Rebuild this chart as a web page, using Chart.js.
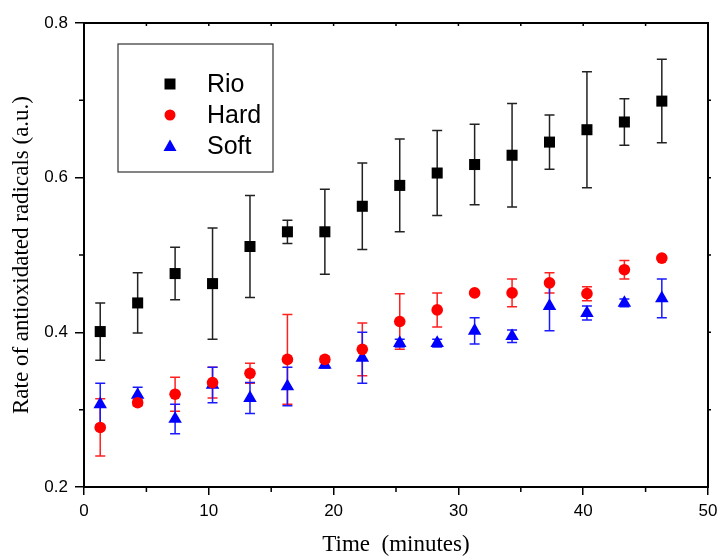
<!DOCTYPE html>
<html>
<head>
<meta charset="utf-8">
<script src="https://cdn.jsdelivr.net/npm/chart.js@4/dist/chart.umd.min.js"></script>
<style>
  html, body { margin: 0; padding: 0; background: #fff; }
  #wrap { width: 719px; height: 556px; position: relative; }
</style>
</head>
<body>
<div id="wrap"><canvas id="chart" width="719" height="556"></canvas></div>
<script>
// time points (minutes)
const time = [1.3, 4.3, 7.3, 10.3, 13.3, 16.3, 19.3, 22.3, 25.3, 28.3, 31.3, 34.3, 37.3, 40.3, 43.3, 46.3];

// Rio
const rio = [0.401, 0.438, 0.476, 0.463, 0.511, 0.530, 0.530, 0.563, 0.590, 0.606, 0.617, 0.629, 0.646, 0.662, 0.672, 0.699];
const rioErr = [0.037, 0.039, 0.034, 0.072, 0.066, 0.015, 0.055, 0.056, 0.060, 0.055, 0.052, 0.067, 0.035, 0.075, 0.030, 0.054];

// Hard
const hard = [0.277, 0.309, 0.320, 0.335, 0.347, 0.365, 0.365, 0.378, 0.414, 0.429, 0.451, 0.451, 0.464, 0.450, 0.481, 0.496];
const hardErr = [0.037, 0.004, 0.022, 0.020, 0.013, 0.058, 0.003, 0.034, 0.036, 0.022, 0.002, 0.018, 0.013, 0.009, 0.012, 0.002];

// Soft
const soft = [0.307, 0.319, 0.288, 0.332, 0.315, 0.330, 0.358, 0.367, 0.386, 0.386, 0.402, 0.395, 0.434, 0.425, 0.438, 0.444];
const softErr = [0.027, 0.010, 0.019, 0.023, 0.020, 0.025, 0.004, 0.033, 0.005, 0.005, 0.017, 0.008, 0.032, 0.009, 0.005, 0.025];

const seriesNames = ['Rio', 'Hard', 'Soft'];
const xMinorTicks = [5, 15, 25, 35, 45];
const yMinorTicks = [0.3, 0.5, 0.7];

function toPoints(ys, errs) {
    return time.map((t, i) => ({ x: t, y: ys[i], err: errs[i] }));
}

// Error bars, drawn under the markers
const errorBars = {
    id: 'errorBars',
    beforeDatasetsDraw(chart) {
        const ctx = chart.ctx;
        const xs = chart.scales.x, ys = chart.scales.y;
        chart.data.datasets.forEach(ds => {
            ctx.save();
            ctx.strokeStyle = ds.errColor;
            ctx.lineWidth = 1.5;
            ds.data.forEach(p => {
                if (!p.err) return;
                const px = xs.getPixelForValue(p.x);
                const top = ys.getPixelForValue(p.y + p.err);
                const bot = ys.getPixelForValue(p.y - p.err);
                ctx.beginPath();
                ctx.moveTo(px, top); ctx.lineTo(px, bot);
                ctx.moveTo(px - 5, top); ctx.lineTo(px + 5, top);
                ctx.moveTo(px - 5, bot); ctx.lineTo(px + 5, bot);
                ctx.stroke();
            });
            ctx.restore();
        });
    }
};

// Frame, minor ticks and the boxed legend
const frame = {
    id: 'frame',
    afterDraw(chart) {
        const ctx = chart.ctx;
        const a = chart.chartArea;
        const xs = chart.scales.x, ys = chart.scales.y;
        ctx.save();
        ctx.strokeStyle = '#000';
        ctx.lineWidth = 2;
        ctx.strokeRect(a.left, a.top, a.right - a.left, a.bottom - a.top);

        ctx.lineWidth = 1.5;
        ctx.beginPath();
        xMinorTicks.forEach(v => {
            const px = xs.getPixelForValue(v);
            ctx.moveTo(px, a.bottom); ctx.lineTo(px, a.bottom + 5);
            ctx.moveTo(px, a.top); ctx.lineTo(px, a.top + 3);
        });
        [10, 20, 30, 40].forEach(v => {
            const px = xs.getPixelForValue(v);
            ctx.moveTo(px, a.top); ctx.lineTo(px, a.top + 3);
        });
        yMinorTicks.forEach(v => {
            const py = ys.getPixelForValue(v);
            ctx.moveTo(a.left, py); ctx.lineTo(a.left - 5, py);
            ctx.moveTo(a.right, py); ctx.lineTo(a.right + 3, py);
        });
        [0.4, 0.6].forEach(v => {
            const py = ys.getPixelForValue(v);
            ctx.moveTo(a.right, py); ctx.lineTo(a.right + 3, py);
        });
        ctx.stroke();

        // legend
        const lx = 118, ly = 44, lw = 155, lh = 128;
        ctx.lineWidth = 1.2;
        ctx.strokeStyle = '#333';
        ctx.strokeRect(lx, ly, lw, lh);
        ctx.font = '25px "Liberation Sans", Arial, sans-serif';
        ctx.textBaseline = 'middle';
        ctx.textAlign = 'left';
        chart.data.datasets.forEach((ds, i) => {
            const cy = 84 + i * 31;
            const cx = 170;
            ctx.fillStyle = ds.backgroundColor;
            ctx.beginPath();
            if (ds.pointStyle === 'rect') {
                ctx.rect(cx - 5.5, cy - 5.5, 11, 11);
            } else if (ds.pointStyle === 'circle') {
                ctx.arc(cx, cy, 5.5, 0, Math.PI * 2);
            } else {
                ctx.moveTo(cx, cy - 6.5);
                ctx.lineTo(cx + 6.5, cy + 5);
                ctx.lineTo(cx - 6.5, cy + 5);
                ctx.closePath();
            }
            ctx.fill();
            ctx.fillStyle = '#000';
            ctx.fillText(ds.label, 207, cy + 1);
        });
        ctx.restore();
    }
};

const ctx = document.getElementById('chart').getContext('2d');
new Chart(ctx, {
    type: 'scatter',
    data: {
        datasets: [
            {
                label: seriesNames[0],
                data: toPoints(rio, rioErr),
                pointStyle: 'rect',
                pointRadius: 7.8,
                backgroundColor: '#000',
                borderColor: '#000',
                borderWidth: 0,
                errColor: '#222'
            },
            {
                label: seriesNames[1],
                data: toPoints(hard, hardErr),
                pointStyle: 'circle',
                pointRadius: 5.8,
                backgroundColor: '#ff0000',
                borderColor: '#ff0000',
                borderWidth: 0,
                errColor: '#ff2020'
            },
            {
                label: seriesNames[2],
                data: toPoints(soft, softErr),
                pointStyle: 'triangle',
                pointRadius: 7.8,
                backgroundColor: '#0000ff',
                borderColor: '#0000ff',
                borderWidth: 0,
                errColor: '#1a1aff'
            }
        ]
    },
    options: {
        responsive: false,
        animation: false,
        layout: { padding: { top: 23, right: 11, left: 0, bottom: 0 } },
        plugins: {
            legend: { display: false },
            tooltip: { enabled: false }
        },
        scales: {
            x: {
                type: 'linear',
                min: 0,
                max: 50,
                ticks: {
                    stepSize: 10,
                    color: '#000',
                    padding: 6,
                    maxRotation: 0,
                    font: { family: '"Liberation Sans", Arial, sans-serif', size: 17 }
                },
                grid: { display: true, drawOnChartArea: false, drawTicks: true, tickLength: 8, color: '#000', lineWidth: 1.5 },
                border: { display: true, color: '#000', width: 2 },
                title: {
                    display: true,
                    text: 'Time  (minutes)',
                    color: '#000',
                    padding: { top: 8, bottom: 0 },
                    font: { family: '"Liberation Serif", "Times New Roman", serif', size: 23, lineHeight: 1.0 }
                },
                afterFit(scale) {
                    scale.height = 69;
                    scale.paddingLeft = 0;
                    scale.paddingRight = 0;
                }
            },
            y: {
                type: 'linear',
                min: 0.2,
                max: 0.8,
                ticks: {
                    stepSize: 0.2,
                    color: '#000',
                    padding: 7,
                    callback: v => v.toFixed(1),
                    font: { family: '"Liberation Sans", Arial, sans-serif', size: 17 }
                },
                grid: { display: true, drawOnChartArea: false, drawTicks: true, tickLength: 9, color: '#000', lineWidth: 1.5 },
                border: { display: true, color: '#000', width: 2 },
                title: {
                    display: true,
                    text: 'Rate of antioxidated radicals (a.u.)',
                    color: '#000',
                    padding: { top: 8, bottom: 0 },
                    font: { family: '"Liberation Serif", "Times New Roman", serif', size: 23 }
                },
                afterFit(scale) { scale.width = 84; }
            }
        }
    },
    plugins: [errorBars, frame]
});
</script>
</body>
</html>
